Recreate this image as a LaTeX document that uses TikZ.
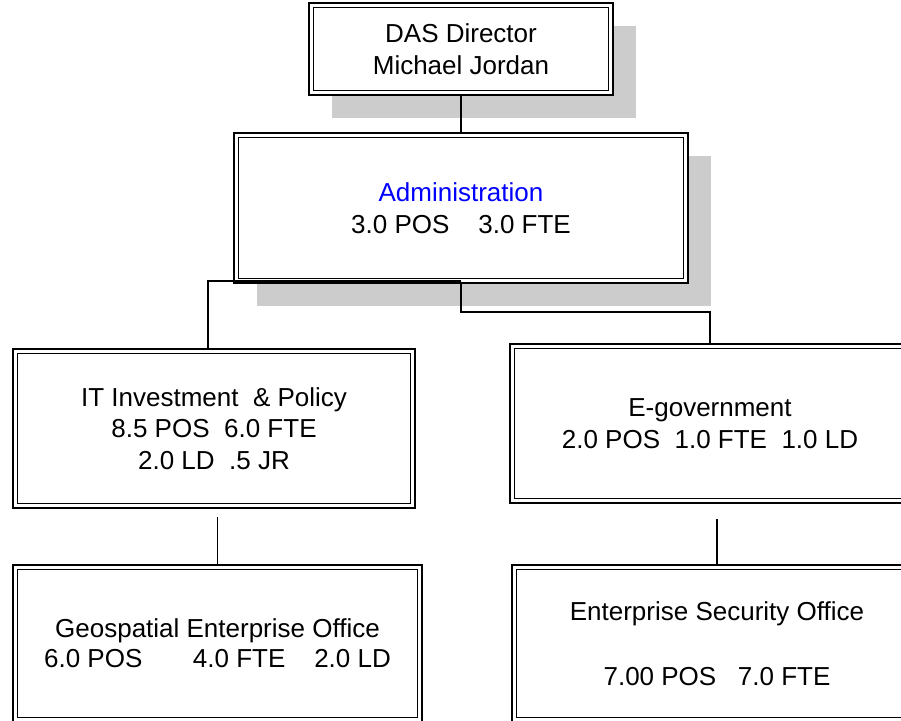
\documentclass[tikz,border=0pt]{standalone}
\usepackage{fontspec}
\setmainfont{Liberation Sans}
\usetikzlibrary{shadows,calc}
\definecolor{shadowgray}{RGB}{204,204,204}
\definecolor{adminblue}{RGB}{0,0,255}
\newcommand{\orgfont}{\fontsize{26}{31.5}\selectfont}
\tikzset{
  orgbox/.style={draw=black, line width=1.8pt, fill=white, inner sep=0pt, outer sep=0pt,
                 align=center, font=\orgfont, text=black},
  boxshadow/.style={drop shadow={shadow xshift=#1, shadow yshift=-#1, fill=shadowgray, opacity=1}},
  innerline/.style={draw=black, line width=1.2pt},
  conn/.style={draw=black, line width=1.3pt}
}
\begin{document}
\begin{tikzpicture}[x=1pt, y=-1pt]
\useasboundingbox (0,0) rectangle (901,720);
\clip (0,0) rectangle (901,720);

\node[orgbox, boxshadow=22.5pt, minimum width=304pt, minimum height=92pt] (das) at (461,49)
  {DAS Director\\Michael Jordan};
\node[orgbox, boxshadow=22.5pt, minimum width=454pt, minimum height=150pt] (admin) at (461,208)
  {{\color{adminblue}Administration}\\3.0 POS~~~~3.0 FTE};
\node[orgbox, minimum width=402pt, minimum height=159pt] (it) at (214,428.5)
  {IT Investment~~\& Policy\\8.5 POS~~6.0 FTE\\2.0 LD~~.5 JR};
\node[orgbox, minimum width=400pt, minimum height=159pt] (egov) at (710,423.5)
  {E-government\\2.0 POS~~1.0 FTE~~1.0 LD};
\node[orgbox, font=\fontsize{26}{30}\selectfont, minimum width=409pt, minimum height=157pt] (geo) at (217.5,643.5)
  {Geospatial Enterprise Office\\6.0 POS~~~~~~~4.0 FTE~~~~2.0 LD};
\node[orgbox, minimum width=410pt, minimum height=157pt] (sec) at (717,643.5)
  {Enterprise Security Office\\[33pt]7.00 POS~~~7.0 FTE};

\foreach \n in {das,admin,it,egov,geo,sec}
  \draw[innerline] ([shift={(4.5pt,-4.5pt)}]\n.north west) rectangle ([shift={(-4.5pt,4.5pt)}]\n.south east);

% connectors
\coordinate (busL) at (461,281);
\draw[conn] (das.south) -- (admin.north);
\draw[conn] (busL) -| ([xshift=-6pt]it.north);
\draw[conn] (admin.south) -- ++(0,29) -| (egov.north);
\draw[conn] ([yshift=-9pt]it.south -| geo.north) -- (geo.north);
\draw[conn] ([yshift=-16pt]egov.south -| sec.north) -- (sec.north);
\end{tikzpicture}
\end{document}
